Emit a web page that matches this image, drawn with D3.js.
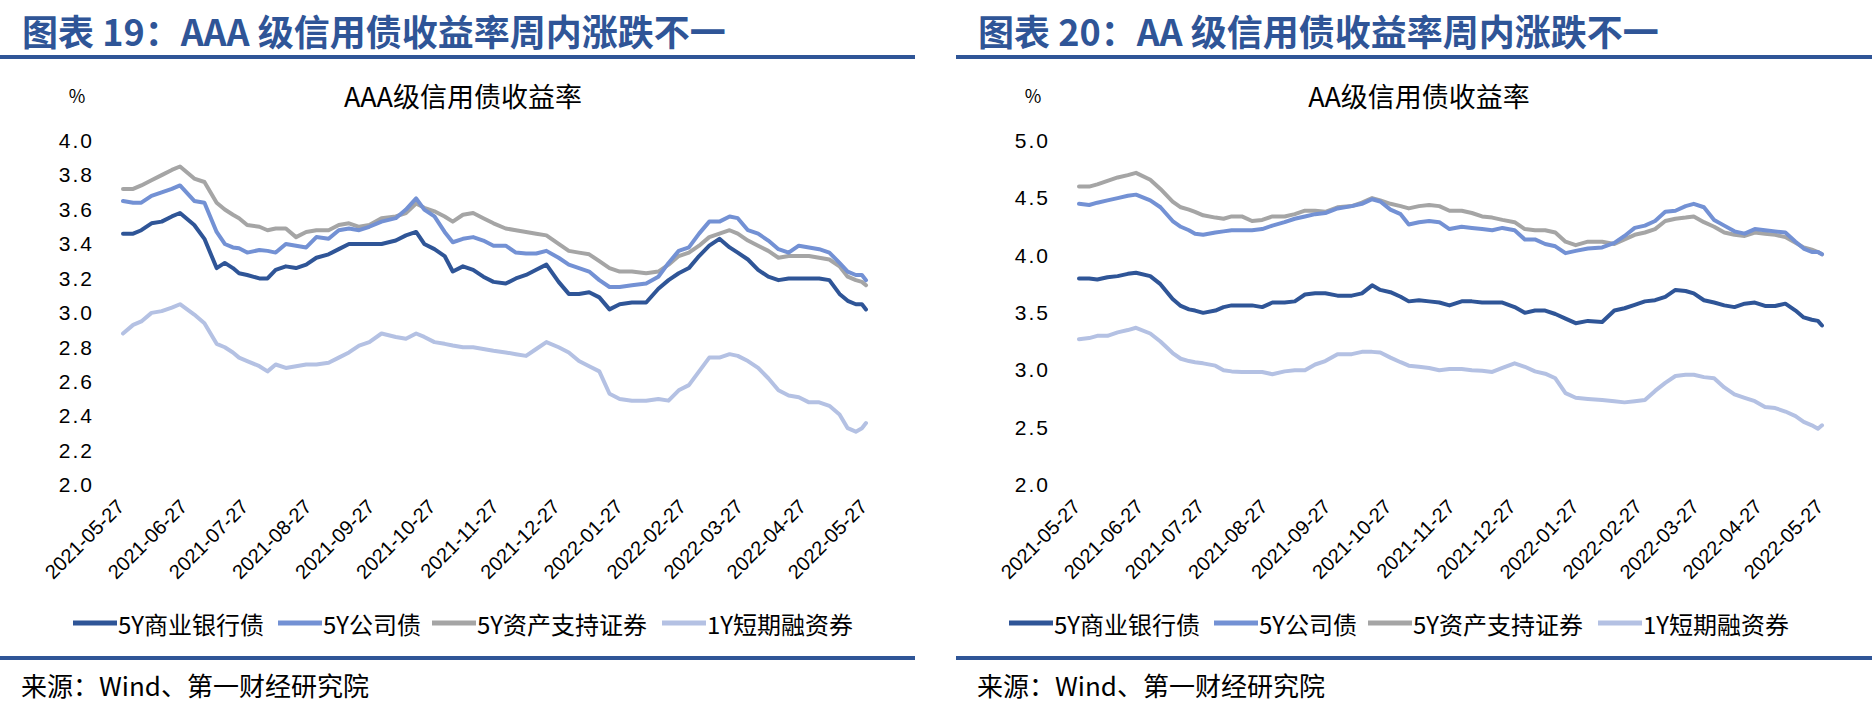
<!DOCTYPE html>
<html><head><meta charset="utf-8">
<script src="https://cdn.jsdelivr.net/npm/d3@7"></script>
<style>body{margin:0;background:#fff;}svg{display:block;}</style>
</head><body>
<svg id="c" width="1872" height="702"></svg>
<script>
const dates = ["2021-05-27","2021-06-01","2021-06-05","2021-06-10","2021-06-15","2021-06-20","2021-06-24","2021-07-01","2021-07-06","2021-07-12","2021-07-16","2021-07-20","2021-07-23","2021-07-27","2021-08-02","2021-08-06","2021-08-10","2021-08-15","2021-08-20","2021-08-25","2021-08-30","2021-09-05","2021-09-10","2021-09-15","2021-09-20","2021-09-25","2021-10-01","2021-10-08","2021-10-13","2021-10-18","2021-10-22","2021-10-27","2021-11-01","2021-11-05","2021-11-10","2021-11-15","2021-11-20","2021-11-25","2021-12-01","2021-12-06","2021-12-11","2021-12-16","2021-12-21","2021-12-27","2022-01-01","2022-01-06","2022-01-11","2022-01-16","2022-01-21","2022-01-26","2022-02-01","2022-02-08","2022-02-14","2022-02-19","2022-02-24","2022-03-01","2022-03-06","2022-03-11","2022-03-16","2022-03-21","2022-03-25","2022-03-30","2022-04-04","2022-04-09","2022-04-14","2022-04-19","2022-04-24","2022-04-29","2022-05-04","2022-05-09","2022-05-14","2022-05-18","2022-05-22","2022-05-25","2022-05-27"];

// AAA
const aaaBank = [3.46,3.46,3.48,3.52,3.53,3.56,3.58,3.51,3.43,3.26,3.29,3.26,3.23,3.22,3.20,3.20,3.25,3.27,3.26,3.28,3.32,3.34,3.37,3.40,3.40,3.40,3.40,3.42,3.45,3.47,3.40,3.37,3.33,3.24,3.27,3.25,3.21,3.18,3.17,3.20,3.22,3.25,3.28,3.18,3.11,3.11,3.12,3.09,3.02,3.05,3.06,3.06,3.14,3.19,3.23,3.26,3.33,3.39,3.43,3.38,3.35,3.31,3.25,3.21,3.19,3.20,3.20,3.20,3.20,3.19,3.11,3.07,3.05,3.05,3.02];
const aaaCorp = [3.65,3.64,3.64,3.68,3.70,3.72,3.74,3.65,3.64,3.47,3.40,3.38,3.375,3.35,3.365,3.36,3.35,3.40,3.39,3.38,3.44,3.43,3.48,3.49,3.48,3.50,3.53,3.55,3.60,3.665,3.60,3.56,3.47,3.41,3.43,3.44,3.42,3.39,3.39,3.35,3.345,3.345,3.36,3.32,3.28,3.26,3.24,3.19,3.15,3.15,3.16,3.17,3.21,3.29,3.36,3.38,3.46,3.53,3.53,3.56,3.55,3.48,3.46,3.42,3.37,3.35,3.39,3.38,3.37,3.35,3.29,3.24,3.22,3.22,3.19];
const aaaAbs = [3.72,3.72,3.74,3.77,3.80,3.83,3.85,3.78,3.76,3.64,3.60,3.57,3.55,3.51,3.50,3.48,3.49,3.49,3.44,3.47,3.48,3.48,3.51,3.52,3.50,3.51,3.55,3.56,3.58,3.635,3.61,3.59,3.56,3.53,3.57,3.58,3.55,3.52,3.49,3.48,3.47,3.46,3.45,3.40,3.36,3.35,3.34,3.30,3.26,3.24,3.24,3.23,3.24,3.28,3.33,3.35,3.39,3.44,3.46,3.48,3.46,3.42,3.39,3.36,3.32,3.33,3.33,3.33,3.32,3.31,3.27,3.21,3.19,3.18,3.16];
const aaaCp = [2.88,2.93,2.95,3.00,3.01,3.03,3.05,2.99,2.94,2.82,2.80,2.77,2.74,2.72,2.69,2.66,2.70,2.68,2.69,2.70,2.70,2.71,2.74,2.77,2.81,2.83,2.88,2.86,2.85,2.88,2.86,2.83,2.82,2.81,2.80,2.80,2.79,2.78,2.77,2.76,2.75,2.79,2.83,2.80,2.77,2.72,2.69,2.66,2.53,2.50,2.49,2.49,2.50,2.49,2.55,2.58,2.66,2.74,2.74,2.76,2.75,2.72,2.68,2.62,2.55,2.52,2.51,2.48,2.48,2.46,2.41,2.33,2.31,2.33,2.36];

// AA
const aaBank = [3.80,3.80,3.79,3.81,3.82,3.84,3.85,3.82,3.75,3.62,3.56,3.53,3.52,3.50,3.52,3.55,3.565,3.565,3.565,3.55,3.59,3.59,3.60,3.66,3.67,3.67,3.65,3.65,3.67,3.74,3.70,3.68,3.64,3.60,3.61,3.60,3.59,3.565,3.60,3.60,3.59,3.59,3.59,3.55,3.50,3.52,3.52,3.49,3.45,3.41,3.43,3.42,3.52,3.54,3.57,3.60,3.61,3.64,3.70,3.69,3.67,3.61,3.59,3.565,3.55,3.58,3.59,3.56,3.56,3.58,3.52,3.46,3.44,3.43,3.39];
const aaCorp = [4.45,4.44,4.46,4.48,4.50,4.52,4.53,4.48,4.42,4.30,4.25,4.22,4.19,4.18,4.20,4.21,4.22,4.22,4.22,4.23,4.26,4.29,4.32,4.34,4.36,4.37,4.41,4.43,4.45,4.49,4.47,4.40,4.36,4.27,4.29,4.30,4.29,4.23,4.25,4.24,4.23,4.22,4.24,4.22,4.14,4.14,4.10,4.08,4.02,4.04,4.06,4.07,4.11,4.17,4.24,4.26,4.30,4.38,4.39,4.43,4.45,4.42,4.31,4.26,4.21,4.19,4.23,4.22,4.21,4.20,4.12,4.06,4.03,4.03,4.01];
const aaAbs = [4.60,4.60,4.62,4.65,4.68,4.70,4.72,4.66,4.58,4.47,4.42,4.40,4.38,4.35,4.33,4.32,4.34,4.34,4.30,4.31,4.34,4.34,4.36,4.39,4.39,4.38,4.42,4.43,4.46,4.50,4.48,4.45,4.43,4.41,4.43,4.44,4.43,4.39,4.39,4.37,4.34,4.33,4.31,4.29,4.23,4.22,4.22,4.20,4.12,4.09,4.12,4.12,4.10,4.14,4.18,4.20,4.23,4.30,4.32,4.33,4.34,4.29,4.25,4.20,4.18,4.17,4.20,4.19,4.18,4.16,4.11,4.07,4.05,4.03,4.01];
const aaCp = [3.27,3.28,3.30,3.30,3.33,3.35,3.37,3.32,3.25,3.15,3.10,3.08,3.07,3.06,3.04,3.00,2.99,2.985,2.985,2.985,2.965,2.99,3.00,3.00,3.05,3.08,3.14,3.14,3.16,3.16,3.155,3.11,3.07,3.04,3.03,3.02,3.00,3.01,3.01,3.00,2.995,2.985,3.02,3.06,3.03,2.99,2.97,2.93,2.80,2.76,2.75,2.74,2.73,2.72,2.73,2.74,2.82,2.89,2.95,2.96,2.96,2.94,2.93,2.85,2.79,2.76,2.73,2.68,2.67,2.64,2.60,2.55,2.52,2.49,2.52];

const seriesNames = ["5Y商业银行债","5Y公司债","5Y资产支持证券","1Y短期融资券"];
const seriesColors = ["#2F5597","#7391D4","#A5A5A5","#B4C1E3"];
const xTickLabels = ["2021-05-27","2021-06-27","2021-07-27","2021-08-27","2021-09-27","2021-10-27","2021-11-27","2021-12-27","2022-01-27","2022-02-27","2022-03-27","2022-04-27","2022-05-27"];
const aaaYTicks = [2.0,2.2,2.4,2.6,2.8,3.0,3.2,3.4,3.6,3.8,4.0];
const aaYTicks = [2.0,2.5,3.0,3.5,4.0,4.5,5.0];
const panelTitles = ["图表 19：AAA 级信用债收益率周内涨跌不一","图表 20：AA 级信用债收益率周内涨跌不一"];
const chartTitles = ["AAA级信用债收益率","AA级信用债收益率"];
const unitLabel = "%";
const sourceText = "来源：Wind、第一财经研究院";

const svg = d3.select("#c");
svg.append("rect").attr("width",1872).attr("height",702).attr("fill","#fff");
const parse = d3.timeParse("%Y-%m-%d");
const BLUE = "#2F5597";
const CJK = "'Noto Sans CJK SC','Noto Sans',sans-serif";

function panel(ox, ruleX0, ruleX1, title, ctitle, yDomain, yTicks, series, legendX) {
  const g = svg.append("g");
  g.append("text").attr("x", ox + 22).attr("y", 46).text(title)
    .attr("font-family", CJK).attr("font-weight", 700).attr("font-size", 36).attr("fill", BLUE);
  g.append("rect").attr("x", ruleX0).attr("y", 55).attr("width", ruleX1 - ruleX0).attr("height", 4).attr("fill", BLUE);
  g.append("rect").attr("x", ruleX0).attr("y", 656).attr("width", ruleX1 - ruleX0).attr("height", 4).attr("fill", BLUE);
  g.append("text").attr("x", ox + 21).attr("y", 684).attr("dominant-baseline","central").text(sourceText)
    .attr("font-family", CJK).attr("font-size", 26).attr("fill", "#000");

  g.append("text").attr("x", ox + 77).attr("y", 95).attr("text-anchor","middle").attr("dominant-baseline","central")
    .text(unitLabel).attr("font-family", CJK).attr("font-size", 18);
  g.append("text").attr("x", ox + 463).attr("y", 95).attr("text-anchor","middle").attr("dominant-baseline","central")
    .text(ctitle).attr("font-family", CJK).attr("font-size", 27);

  const x = d3.scaleTime().domain([parse("2021-05-27"), parse("2022-05-27")]).range([ox + 123, ox + 866]);
  const y = d3.scaleLinear().domain(yDomain).range([485, 140.7]);

  const yAxis = d3.axisLeft(y).tickValues(yTicks).tickFormat(d3.format(".1f")).tickSize(0).tickPadding(0);
  const ya = g.append("g").attr("transform", `translate(${ox + 92},0)`).call(yAxis);
  ya.select(".domain").remove();
  ya.selectAll("text").attr("font-family","'Liberation Sans',Arial,sans-serif").attr("font-size",21)
    .attr("letter-spacing", 2).attr("fill","#000").attr("dx", 2);

  const xAxis = d3.axisBottom(x).tickValues(xTickLabels.map(parse)).tickFormat(d3.timeFormat("%Y-%m-%d")).tickSize(0).tickPadding(0);
  const xa = g.append("g").attr("transform", `translate(0,508)`).call(xAxis);
  xa.select(".domain").remove();
  xa.selectAll("text").attr("font-family","'Liberation Sans',Arial,sans-serif").attr("font-size",20).attr("fill","#000")
    .attr("text-anchor","end").attr("dy", 0).attr("y", 0).attr("transform","translate(2,0) rotate(-45)");

  const line = d3.line().x((d,i) => x(parse(dates[i]))).y(d => y(d));
  // draw order: light, gray, medium, dark? keep series order so dark on bottom of drawing
  [3,2,1,0].forEach(k => {
    g.append("path").datum(series[k]).attr("d", line).attr("fill","none")
      .attr("stroke", seriesColors[k]).attr("stroke-width", 4).attr("stroke-linejoin","round").attr("stroke-linecap","round");
  });

  // legend
  const lg = g.append("g").attr("transform", `translate(${legendX},623)`);
  const starts = [0, 205, 359, 589];
  seriesNames.forEach((n, k) => {
    lg.append("line").attr("x1", starts[k]).attr("x2", starts[k] + 44).attr("y1", 0).attr("y2", 0)
      .attr("stroke", seriesColors[k]).attr("stroke-width", 5);
    lg.append("text").attr("x", starts[k] + 45).attr("y", 0).attr("dominant-baseline","central").text(n)
      .attr("font-family", CJK).attr("font-size", 24).attr("fill","#000");
  });
}

panel(0, 0, 915, panelTitles[0], chartTitles[0], [2, 4], aaaYTicks, [aaaBank, aaaCorp, aaaAbs, aaaCp], 73);
panel(956, 956, 1872, panelTitles[1], chartTitles[1], [2, 5], aaYTicks, [aaBank, aaCorp, aaAbs, aaCp], 1009);
</script>
</body></html>
